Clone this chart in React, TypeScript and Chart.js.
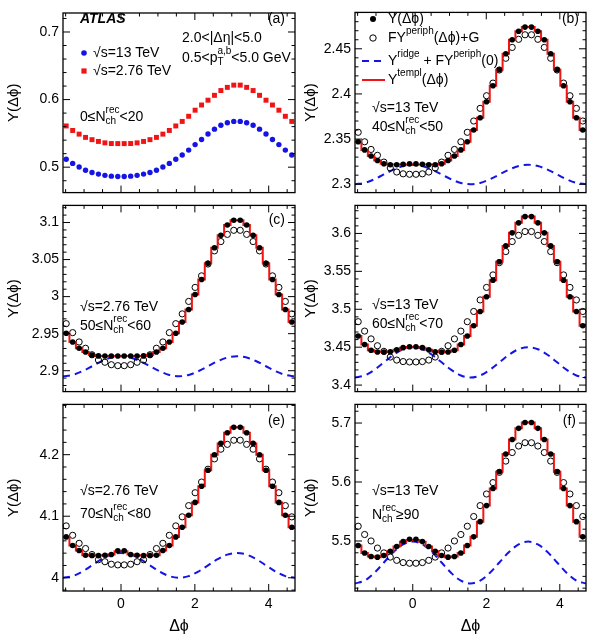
import React, { useEffect, useRef } from "react";
import { Chart, registerables } from "chart.js";

Chart.register(...registerables);

const FONT = '"Liberation Sans", Arial, Helvetica, sans-serif';
Chart.defaults.font.family = FONT;
Chart.defaults.color = "#000";

const PHI_MIN = -Math.PI / 2;
const PHI_MAX = (3 * Math.PI) / 2;

// Δφ bin centres: 36 bins of π/18 covering [-π/2, 3π/2]
const PHI = [
  -1.484, -1.309, -1.134, -0.96, -0.785, -0.611, -0.436, -0.262, -0.087,
  0.087, 0.262, 0.436, 0.611, 0.785, 0.96, 1.134, 1.309, 1.484,
  1.658, 1.833, 2.007, 2.182, 2.356, 2.531, 2.705, 2.88, 3.054,
  3.229, 3.403, 3.578, 3.752, 3.927, 4.102, 4.276, 4.451, 4.625,
];

// sample points of the ridge (cos 2Δφ) curve
const RIDGE_PHI = [
  -1.571, -1.309, -1.047, -0.785, -0.524, -0.262, 0, 0.262, 0.524, 0.785, 1.047, 1.309, 1.571,
  1.833, 2.094, 2.356, 2.618, 2.88, 3.142, 3.403, 3.665, 3.927, 4.189, 4.451, 4.712,
];

const X_TICKS = [0, 2, 4];
const X_MINOR = 0.5;

// (a) 0 <= N < 20
const A_13TEV = [
  0.5117, 0.5056, 0.5003, 0.4955, 0.4922, 0.4898, 0.4879, 0.4867, 0.4863,
  0.4863, 0.4867, 0.4879, 0.4898, 0.4922, 0.4955, 0.5003, 0.5056, 0.5117,
  0.5181, 0.5253, 0.5334, 0.541, 0.5491, 0.5563, 0.562, 0.5657, 0.5677,
  0.5677, 0.5657, 0.562, 0.5563, 0.5491, 0.541, 0.5334, 0.5253, 0.5181,
];
const A_276TEV = [
  0.561, 0.5543, 0.5489, 0.5441, 0.5407, 0.5381, 0.536, 0.535, 0.5349,
  0.5349, 0.535, 0.536, 0.5381, 0.5407, 0.5441, 0.5489, 0.5543, 0.561,
  0.5677, 0.5753, 0.5843, 0.592, 0.5991, 0.6063, 0.6134, 0.6181, 0.6214,
  0.6214, 0.6181, 0.6134, 0.6063, 0.5991, 0.592, 0.5843, 0.5753, 0.5677,
];

// (b) 13 TeV, 40 <= N < 50
const B_Y = [
  2.347, 2.338, 2.3312, 2.3262, 2.3226, 2.3216, 2.3216, 2.322, 2.3225,
  2.3225, 2.322, 2.3216, 2.3216, 2.3226, 2.3262, 2.3312, 2.338, 2.347,
  2.36, 2.3736, 2.3914, 2.409, 2.4267, 2.4445, 2.46, 2.4695, 2.474,
  2.474, 2.4695, 2.46, 2.4445, 2.4267, 2.409, 2.3914, 2.3736, 2.36,
];
const B_FY = [
  2.3575, 2.347, 2.3385, 2.332, 2.3245, 2.318, 2.3135, 2.3115, 2.311,
  2.311, 2.3115, 2.3135, 2.318, 2.3245, 2.332, 2.3385, 2.347, 2.3575,
  2.37, 2.384, 2.398, 2.412, 2.4265, 2.4395, 2.4515, 2.4605, 2.4655,
  2.4655, 2.4605, 2.4515, 2.4395, 2.4265, 2.412, 2.398, 2.384, 2.37,
];
const B_TEMPL = [
  2.347, 2.338, 2.3312, 2.3262, 2.3226, 2.3217, 2.3217, 2.3217, 2.3217,
  2.3217, 2.3217, 2.3217, 2.3217, 2.3226, 2.3262, 2.3312, 2.338, 2.347,
  2.36, 2.3736, 2.3914, 2.409, 2.4267, 2.4445, 2.46, 2.4695, 2.474,
  2.474, 2.4695, 2.46, 2.4445, 2.4267, 2.409, 2.3914, 2.3736, 2.36,
];
const B_RIDGE = [
  2.3, 2.3014, 2.3054, 2.3108, 2.3161, 2.3201, 2.3215, 2.3201, 2.3161, 2.3108, 2.3054, 2.3014, 2.3,
  2.3014, 2.3054, 2.3108, 2.3161, 2.3201, 2.3215, 2.3201, 2.3161, 2.3108, 2.3054, 2.3014, 2.3,
];

// (c) 2.76 TeV, 50 <= N < 60
const C_Y = [
  2.9505, 2.9388, 2.9303, 2.9253, 2.9211, 2.92, 2.9198, 2.9198, 2.9198,
  2.9198, 2.9198, 2.9198, 2.92, 2.9211, 2.9253, 2.9303, 2.9388, 2.9505,
  2.9657, 2.9826, 3.0028, 3.023, 3.0449, 3.066, 3.0828, 3.0967, 3.103,
  3.103, 3.0967, 3.0828, 3.066, 3.0449, 3.023, 3.0028, 2.9826, 2.9657,
];
const C_FY = [
  2.9635, 2.9514, 2.9388, 2.9303, 2.9215, 2.9144, 2.9114, 2.9081, 2.9068,
  2.9068, 2.9081, 2.9114, 2.9144, 2.9215, 2.9303, 2.9388, 2.9514, 2.9635,
  2.9767, 2.9935, 3.0124, 3.028, 3.044, 3.0617, 3.0743, 3.084, 3.0895,
  3.0895, 3.084, 3.0743, 3.0617, 3.044, 3.028, 3.0124, 2.9935, 2.9767,
];
const C_TEMPL = [
  2.9505, 2.9388, 2.9303, 2.9253, 2.9211, 2.9199, 2.9199, 2.9199, 2.9199,
  2.9199, 2.9199, 2.9199, 2.9199, 2.9211, 2.9253, 2.9303, 2.9388, 2.9505,
  2.9657, 2.9826, 3.0028, 3.023, 3.0449, 3.066, 3.0828, 3.0967, 3.103,
  3.103, 3.0967, 3.0828, 3.066, 3.0449, 3.023, 3.0028, 2.9826, 2.9657,
];
const C_RIDGE = [
  2.8925, 2.8943, 2.8993, 2.906, 2.9128, 2.9177, 2.9195, 2.9177, 2.9128, 2.906, 2.8993, 2.8943, 2.8925,
  2.8943, 2.8993, 2.906, 2.9128, 2.9177, 2.9195, 2.9177, 2.9128, 2.906, 2.8993, 2.8943, 2.8925,
];

// (d) 13 TeV, 60 <= N < 70
const D_Y = [
  3.4648, 3.4535, 3.446, 3.4436, 3.4436, 3.444, 3.4465, 3.4494, 3.4506,
  3.4506, 3.4494, 3.4465, 3.444, 3.4436, 3.4436, 3.446, 3.4535, 3.4648,
  3.4782, 3.4971, 3.5165, 3.5383, 3.5626, 3.5836, 3.6008, 3.614, 3.6222,
  3.6222, 3.614, 3.6008, 3.5836, 3.5626, 3.5383, 3.5165, 3.4971, 3.4782,
];
const D_FY = [
  3.4836, 3.4712, 3.4609, 3.4519, 3.4445, 3.437, 3.433, 3.431, 3.4305,
  3.4305, 3.431, 3.433, 3.437, 3.4445, 3.4519, 3.4609, 3.4712, 3.4836,
  3.4971, 3.5123, 3.5288, 3.5453, 3.5615, 3.5761, 3.5893, 3.5975, 3.6025,
  3.6025, 3.5975, 3.5893, 3.5761, 3.5615, 3.5453, 3.5288, 3.5123, 3.4971,
];
const D_TEMPL = [
  3.4648, 3.4535, 3.446, 3.4438, 3.4436, 3.4442, 3.4465, 3.4492, 3.4502,
  3.4502, 3.4492, 3.4465, 3.4442, 3.4436, 3.4438, 3.446, 3.4535, 3.4648,
  3.4782, 3.4971, 3.5165, 3.5383, 3.5626, 3.5836, 3.6008, 3.614, 3.6222,
  3.6222, 3.614, 3.6008, 3.5836, 3.5626, 3.5383, 3.5165, 3.4971, 3.4782,
];
const D_RIDGE = [
  3.41, 3.4127, 3.42, 3.43, 3.44, 3.4473, 3.45, 3.4473, 3.44, 3.43, 3.42, 3.4127, 3.41,
  3.4127, 3.42, 3.43, 3.44, 3.4473, 3.45, 3.4473, 3.44, 3.43, 3.42, 3.4127, 3.41,
];

// (e) 2.76 TeV, 70 <= N < 80
const E_Y = [
  4.0664, 4.0525, 4.0442, 4.0365, 4.0362, 4.036, 4.0365, 4.0378, 4.044,
  4.044, 4.0378, 4.0365, 4.036, 4.0362, 4.0365, 4.0442, 4.0525, 4.0664,
  4.0822, 4.1015, 4.1225, 4.1486, 4.1748, 4.2, 4.2183, 4.2356, 4.2444,
  4.2444, 4.2356, 4.2183, 4.2, 4.1748, 4.1486, 4.1225, 4.1015, 4.0822,
];
const E_FY = [
  4.0843, 4.069, 4.056, 4.0475, 4.0377, 4.0293, 4.0261, 4.022, 4.0209,
  4.0209, 4.022, 4.0261, 4.0293, 4.0377, 4.0475, 4.056, 4.069, 4.0843,
  4.099, 4.1172, 4.1382, 4.1555, 4.1764, 4.1932, 4.2089, 4.2168, 4.2235,
  4.2235, 4.2168, 4.2089, 4.1932, 4.1764, 4.1555, 4.1382, 4.1172, 4.099,
];
const E_TEMPL = [
  4.0664, 4.0525, 4.0442, 4.0366, 4.0362, 4.0361, 4.0366, 4.0378, 4.0432,
  4.0432, 4.0378, 4.0366, 4.0361, 4.0362, 4.0366, 4.0442, 4.0525, 4.0664,
  4.0822, 4.1015, 4.1225, 4.1486, 4.1748, 4.2, 4.2183, 4.2356, 4.2444,
  4.2444, 4.2356, 4.2183, 4.2, 4.1748, 4.1486, 4.1225, 4.1015, 4.0822,
];
const E_RIDGE = [
  4.0, 4.0027, 4.0101, 4.0202, 4.0302, 4.0376, 4.0403, 4.0376, 4.0302, 4.0202, 4.0101, 4.0027, 4.0,
  4.0027, 4.0101, 4.0202, 4.0302, 4.0376, 4.0403, 4.0376, 4.0302, 4.0202, 4.0101, 4.0027, 4.0,
];

// (f) 13 TeV, N >= 90
const F_Y = [
  5.4923, 5.4797, 5.4737, 5.4726, 5.4754, 5.4825, 5.4907, 5.499, 5.503,
  5.503, 5.499, 5.4907, 5.4825, 5.4754, 5.4726, 5.4737, 5.4797, 5.4923,
  5.507, 5.5328, 5.56, 5.589, 5.6174, 5.6475, 5.672, 5.691, 5.701,
  5.701, 5.691, 5.672, 5.6475, 5.6174, 5.589, 5.56, 5.5328, 5.507,
];
const F_FY = [
  5.525, 5.511, 5.5, 5.488, 5.4798, 5.4727, 5.4672, 5.4634, 5.4623,
  5.4623, 5.4634, 5.4672, 5.4727, 5.4798, 5.488, 5.5, 5.511, 5.525,
  5.5415, 5.56, 5.5797, 5.599, 5.6164, 5.6355, 5.65, 5.661, 5.6666,
  5.6666, 5.661, 5.65, 5.6355, 5.6164, 5.599, 5.5797, 5.56, 5.5415,
];
const F_TEMPL = [
  5.4923, 5.4797, 5.4737, 5.4726, 5.4754, 5.4825, 5.4907, 5.4985, 5.5015,
  5.5015, 5.4985, 5.4907, 5.4825, 5.4754, 5.4726, 5.4737, 5.4797, 5.4923,
  5.507, 5.5328, 5.56, 5.589, 5.6174, 5.6475, 5.672, 5.691, 5.701,
  5.701, 5.691, 5.672, 5.6475, 5.6174, 5.589, 5.56, 5.5328, 5.507,
];
const F_RIDGE = [
  5.428, 5.4328, 5.4458, 5.4635, 5.4813, 5.4942, 5.499, 5.4942, 5.4813, 5.4635, 5.4458, 5.4328, 5.428,
  5.4328, 5.4458, 5.4635, 5.4813, 5.4942, 5.499, 5.4942, 5.4813, 5.4635, 5.4458, 5.4328, 5.428,
];

const RED = "#f01414";
const BLUE = "#1414e6";
const BLACK = "#000";

type Seg = string | { sup?: string; sub?: string };
interface Label {
  x: number;
  y: number;
  segs: Seg[];
  size?: number;
  style?: string;
  align?: "left" | "right";
}
interface Marker {
  kind: "dot" | "open" | "square" | "dash" | "line";
  x: number;
  y: number;
  x2?: number;
  color: string;
  r?: number;
}
interface Panel {
  id: string;
  box: [number, number, number, number]; // canvas left, top, width, height
  area: [number, number, number, number]; // frame left, top, right, bottom
  yMin: number;
  yMax: number;
  yTicks: number[];
  yMinor: number;
  bottomAxis: boolean;
  datasets: any[];
  labels: Label[];
  markers: Marker[];
}

const pts = (ys: number[]) => PHI.map((x, i) => ({ x, y: ys[i] }));
const steps = (ys: number[]) => [{ x: PHI_MIN, y: ys[0] }, ...pts(ys), { x: PHI_MAX, y: ys[ys.length - 1] }];
const curve = (ys: number[]) => RIDGE_PHI.map((x, i) => ({ x, y: ys[i] }));

function templateSeries(y: number[], fy: number[], templ: number[], ridge: number[]) {
  return [
    {
      label: "ridge",
      data: curve(ridge),
      showLine: true,
      borderColor: BLUE,
      borderWidth: 2,
      borderDash: [7, 5],
      pointRadius: 0,
      tension: 0.35,
      order: 4,
    },
    {
      label: "periph",
      data: pts(fy),
      showLine: false,
      pointRadius: 3.1,
      pointBorderWidth: 1,
      pointBorderColor: BLACK,
      pointBackgroundColor: "rgba(0,0,0,0)",
      order: 3,
      clip: false,
    },
    {
      label: "templ",
      data: steps(templ),
      showLine: true,
      stepped: "middle",
      borderColor: RED,
      borderWidth: 2,
      pointRadius: 0,
      order: 2,
    },
    {
      label: "Y",
      data: pts(y),
      showLine: false,
      pointRadius: 2.8,
      pointBorderWidth: 0,
      pointBackgroundColor: BLACK,
      order: 1,
      clip: false,
    },
  ];
}

const nLabel = (lo: string, hi: string): Seg[] => [lo + "≤N", { sup: "rec", sub: "ch" }, "<" + hi];

const LEFT_BOX = (top: number, h: number): [number, number, number, number] => [0, top, 300, h];
const RIGHT_BOX = (top: number, h: number): [number, number, number, number] => [296, top, 296, h];

const PANELS: Panel[] = [
  {
    id: "a",
    box: LEFT_BOX(0, 205),
    area: [63, 13, 295, 199],
    yMin: 0.4624,
    yMax: 0.7281,
    yTicks: [0.5, 0.6, 0.7],
    yMinor: 0.02,
    bottomAxis: false,
    datasets: [
      {
        label: "2.76 TeV",
        data: pts(A_276TEV),
        pointStyle: "rect",
        pointRadius: 3.5,
        pointBorderWidth: 0,
        pointBackgroundColor: RED,
        clip: false,
      },
      {
        label: "13 TeV",
        data: pts(A_13TEV),
        pointStyle: "circle",
        pointRadius: 2.7,
        pointBorderWidth: 0,
        pointBackgroundColor: BLUE,
        clip: false,
      },
    ],
    labels: [
      { x: 80, y: 19, segs: ["ATLAS"], style: "italic bold" },
      { x: 285, y: 19, segs: ["(a)"], align: "right" },
      { x: 182, y: 38, segs: ["2.0<|Δη|<5.0"] },
      { x: 182, y: 58, segs: ["0.5<p", { sup: "a,b", sub: "T" }, "<5.0 GeV"] },
      { x: 93, y: 53, segs: ["√s=13 TeV"] },
      { x: 93, y: 71, segs: ["√s=2.76 TeV"] },
      { x: 80, y: 117, segs: nLabel("0", "20") },
    ],
    markers: [
      { kind: "dot", x: 84, y: 53, color: BLUE, r: 2.8 },
      { kind: "square", x: 84, y: 71, color: RED, r: 2.6 },
    ],
  },
  {
    id: "b",
    box: RIGHT_BOX(0, 205),
    area: [355, 5, 586, 199],
    yMin: 2.2907,
    yMax: 2.4903,
    yTicks: [2.3, 2.35, 2.4, 2.45],
    yMinor: 0.01,
    bottomAxis: false,
    datasets: templateSeries(B_Y, B_FY, B_TEMPL, B_RIDGE),
    labels: [
      { x: 579, y: 19, segs: ["(b)"], align: "right" },
      { x: 388, y: 19, segs: ["Y(Δϕ)"] },
      { x: 388, y: 38, segs: ["FY", { sup: "periph" }, "(Δϕ)+G"] },
      { x: 388, y: 61, segs: ["Y", { sup: "ridge" }, " + FY", { sup: "periph" }, "(0)"] },
      { x: 388, y: 80, segs: ["Y", { sup: "templ" }, "(Δϕ)"] },
      { x: 372, y: 108, segs: ["√s=13 TeV"] },
      { x: 372, y: 127, segs: nLabel("40", "50") },
    ],
    markers: [
      { kind: "dot", x: 373, y: 19, color: BLACK, r: 3 },
      { kind: "open", x: 373, y: 38, color: BLACK, r: 3.2 },
      { kind: "dash", x: 362, x2: 385, y: 61, color: BLUE },
      { kind: "line", x: 362, x2: 385, y: 80, color: RED },
    ],
  },
  {
    id: "c",
    box: LEFT_BOX(193, 211),
    area: [63, 199, 295, 398],
    yMin: 2.8718,
    yMax: 3.1231,
    yTicks: [2.9, 2.95, 3, 3.05, 3.1],
    yMinor: 0.01,
    bottomAxis: false,
    datasets: templateSeries(C_Y, C_FY, C_TEMPL, C_RIDGE),
    labels: [
      { x: 285, y: 220, segs: ["(c)"], align: "right" },
      { x: 80, y: 307, segs: ["√s=2.76 TeV"] },
      { x: 80, y: 326, segs: nLabel("50", "60") },
    ],
    markers: [],
  },
  {
    id: "d",
    box: RIGHT_BOX(193, 211),
    area: [355, 199, 586, 398],
    yMin: 3.3914,
    yMax: 3.637,
    yTicks: [3.4, 3.45, 3.5, 3.55, 3.6],
    yMinor: 0.01,
    bottomAxis: false,
    datasets: templateSeries(D_Y, D_FY, D_TEMPL, D_RIDGE),
    labels: [
      { x: 372, y: 305, segs: ["√s=13 TeV"] },
      { x: 372, y: 324, segs: nLabel("60", "70") },
    ],
    markers: [],
  },
  {
    id: "e",
    box: LEFT_BOX(392, 245),
    area: [63, 398, 295, 591],
    yMin: 3.9785,
    yMax: 4.2817,
    yTicks: [4, 4.1, 4.2],
    yMinor: 0.02,
    bottomAxis: true,
    datasets: templateSeries(E_Y, E_FY, E_TEMPL, E_RIDGE),
    labels: [
      { x: 285, y: 421, segs: ["(e)"], align: "right" },
      { x: 80, y: 491, segs: ["√s=2.76 TeV"] },
      { x: 80, y: 514, segs: nLabel("70", "80") },
    ],
    markers: [],
  },
  {
    id: "f",
    box: RIGHT_BOX(392, 245),
    area: [355, 398, 586, 591],
    yMin: 5.4152,
    yMax: 5.7316,
    yTicks: [5.5, 5.6, 5.7],
    yMinor: 0.02,
    bottomAxis: true,
    datasets: templateSeries(F_Y, F_FY, F_TEMPL, F_RIDGE),
    labels: [
      { x: 576, y: 421, segs: ["(f)"], align: "right" },
      { x: 372, y: 491, segs: ["√s=13 TeV"] },
      { x: 372, y: 515, segs: ["N", { sup: "rec", sub: "ch" }, "≥90"] },
    ],
    markers: [],
  },
];

const fmt = (v: any) => String(Math.round(Number(v) * 1000) / 1000);

function drawLabel(ctx: CanvasRenderingContext2D, l: Label, ox: number, oy: number) {
  const size = l.size ?? 14;
  const big = `${l.style ? l.style + " " : ""}${size}px ${FONT}`;
  const small = `${Math.round(size * 0.7)}px ${FONT}`;
  const segWidth = (s: Seg) => {
    if (typeof s === "string") {
      ctx.font = big;
      return ctx.measureText(s).width;
    }
    ctx.font = small;
    return Math.max(s.sup ? ctx.measureText(s.sup).width : 0, s.sub ? ctx.measureText(s.sub).width : 0);
  };
  const total = l.segs.reduce((w, s) => w + segWidth(s), 0);
  let x = l.x - ox - (l.align === "right" ? total : 0);
  const y = l.y - oy;
  ctx.textAlign = "left";
  ctx.textBaseline = "middle";
  for (const s of l.segs) {
    const w = segWidth(s);
    if (typeof s === "string") {
      ctx.font = big;
      ctx.fillText(s, x, y);
    } else {
      ctx.font = small;
      if (s.sup) ctx.fillText(s.sup, x, y - size * 0.45);
      if (s.sub) ctx.fillText(s.sub, x, y + size * 0.32);
    }
    x += w;
  }
}

function drawMarker(ctx: CanvasRenderingContext2D, m: Marker, ox: number, oy: number) {
  const x = m.x - ox;
  const y = m.y - oy;
  const r = m.r ?? 3;
  ctx.save();
  if (m.kind === "dot") {
    ctx.fillStyle = m.color;
    ctx.beginPath();
    ctx.arc(x, y, r, 0, Math.PI * 2);
    ctx.fill();
  } else if (m.kind === "open") {
    ctx.strokeStyle = m.color;
    ctx.lineWidth = 1;
    ctx.beginPath();
    ctx.arc(x, y, r, 0, Math.PI * 2);
    ctx.stroke();
  } else if (m.kind === "square") {
    ctx.fillStyle = m.color;
    ctx.fillRect(x - r, y - r, 2 * r, 2 * r);
  } else {
    ctx.strokeStyle = m.color;
    ctx.lineWidth = 2;
    if (m.kind === "dash") ctx.setLineDash([7, 5]);
    ctx.beginPath();
    ctx.moveTo(x, y);
    ctx.lineTo((m.x2 ?? m.x) - ox, y);
    ctx.stroke();
  }
  ctx.restore();
}

function framePlugin(p: Panel) {
  const [ox, oy] = p.box;
  return {
    id: "frame-" + p.id,
    afterDatasetsDraw(chart: any) {
      const { ctx, chartArea: a } = chart;
      const xs = chart.scales.x;
      const ys = chart.scales.y;
      ctx.save();
      ctx.strokeStyle = BLACK;
      ctx.lineWidth = 1;
      ctx.beginPath();
      for (let k = Math.ceil(PHI_MIN / X_MINOR); k <= Math.floor(PHI_MAX / X_MINOR); k++) {
        const v = k * X_MINOR;
        const px = xs.getPixelForValue(v);
        const len = X_TICKS.some((t) => Math.abs(t - v) < 1e-9) ? 7 : 3.5;
        ctx.moveTo(px, a.bottom);
        ctx.lineTo(px, a.bottom - len);
        ctx.moveTo(px, a.top);
        ctx.lineTo(px, a.top + len);
      }
      for (let k = Math.ceil(p.yMin / p.yMinor - 1e-6); k <= Math.floor(p.yMax / p.yMinor + 1e-6); k++) {
        const v = k * p.yMinor;
        const py = ys.getPixelForValue(v);
        const len = p.yTicks.some((t) => Math.abs(t - v) < 1e-6) ? 7 : 3.5;
        ctx.moveTo(a.left, py);
        ctx.lineTo(a.left + len, py);
        ctx.moveTo(a.right, py);
        ctx.lineTo(a.right - len, py);
      }
      ctx.stroke();
      ctx.lineWidth = 1.3;
      ctx.strokeRect(a.left, a.top, a.right - a.left, a.bottom - a.top);
      ctx.restore();
    },
    afterDraw(chart: any) {
      const ctx = chart.ctx as CanvasRenderingContext2D;
      ctx.save();
      ctx.fillStyle = BLACK;
      for (const m of p.markers) drawMarker(ctx, m, ox, oy);
      ctx.fillStyle = BLACK;
      for (const l of p.labels) drawLabel(ctx, l, ox, oy);
      ctx.restore();
    },
  };
}

function buildConfig(p: Panel): any {
  const [bl, bt, bw, bh] = p.box;
  const [al, at, ar, ab] = p.area;
  const leftW = al - bl;
  const padTop = at - bt;
  const padRight = bl + bw - ar;
  const bottomH = bt + bh - ab;
  const xScale: any = {
    type: "linear",
    min: PHI_MIN,
    max: PHI_MAX,
    display: p.bottomAxis,
    grid: { display: false, drawTicks: false },
    border: { display: false },
    afterBuildTicks: (s: any) => {
      s.ticks = X_TICKS.map((value) => ({ value }));
    },
    ticks: { font: { size: 14 }, color: BLACK, padding: 5, maxRotation: 0, autoSkip: false, callback: fmt },
    title: { display: true, text: "Δϕ", font: { size: 16 }, color: BLACK, padding: { top: 0, bottom: 1 } },
  };
  if (p.bottomAxis) {
    xScale.afterFit = (s: any) => {
      s.height = bottomH;
    };
  }
  return {
    type: "scatter",
    data: { datasets: p.datasets },
    plugins: [framePlugin(p)],
    options: {
      responsive: false,
      maintainAspectRatio: false,
      animation: false,
      devicePixelRatio: 1,
      events: [],
      layout: {
        autoPadding: false,
        padding: { left: 0, top: padTop, right: padRight, bottom: p.bottomAxis ? 0 : bottomH },
      },
      plugins: { legend: { display: false }, tooltip: { enabled: false } },
      scales: {
        x: xScale,
        y: {
          type: "linear",
          min: p.yMin,
          max: p.yMax,
          grid: { display: false, drawTicks: false },
          border: { display: false },
          afterBuildTicks: (s: any) => {
            s.ticks = p.yTicks.map((value) => ({ value }));
          },
          afterFit: (s: any) => {
            s.width = leftW;
          },
          ticks: { font: { size: 14 }, color: BLACK, padding: 4, autoSkip: false, callback: fmt },
          title: {
            display: true,
            text: "Y(Δϕ)",
            font: { size: 15 },
            color: BLACK,
            padding: { top: bl === 0 ? 5 : 6, bottom: 0 },
          },
        },
      },
    },
  };
}

function PanelChart({ p }: { p: Panel }) {
  const ref = useRef<HTMLCanvasElement>(null);
  useEffect(() => {
    const chart = new Chart(ref.current as HTMLCanvasElement, buildConfig(p));
    return () => chart.destroy();
  }, [p]);
  const [l, t, w, h] = p.box;
  return (
    <canvas
      ref={ref}
      width={w}
      height={h}
      style={{ position: "absolute", left: l, top: t, width: w, height: h }}
    />
  );
}

export default function App() {
  return (
    <div style={{ position: "absolute", left: 0, top: 0, width: 592, height: 637, background: "#fff" }}>
      {PANELS.map((p) => (
        <PanelChart key={p.id} p={p} />
      ))}
    </div>
  );
}
